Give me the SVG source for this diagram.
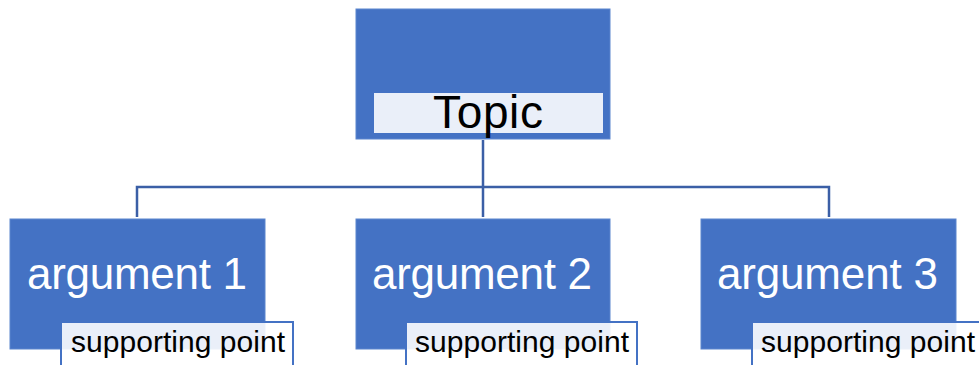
<svg xmlns="http://www.w3.org/2000/svg" width="979" height="365" viewBox="0 0 979 365">
  <style>
    .box { fill: #4472C4; stroke: #5B85CE; stroke-width: 1; }
    .label { fill: #FFFFFF; fill-opacity: 0.89; }
    .sub { fill: #FFFFFF; fill-opacity: 0.89; stroke: #4472C4; stroke-width: 2; }
    .wire { fill: none; stroke: #3B5FA6; stroke-width: 2.5; }
    text { font-family: "Liberation Sans", Arial, sans-serif; }
    .t-topic { font-size: 46px; fill: #000000; }
    .t-arg { font-size: 44px; fill: #FFFFFF; }
    .t-sub { font-size: 30px; fill: #000000; }
  </style>

  <!-- tree connectors -->
  <g id="connectors">
    <path class="wire" d="M483,140 V217"/>
    <path class="wire" d="M137,217 V187 H829 V217"/>
  </g>

  <g id="topic">
    <rect class="box" x="356" y="9" width="254" height="130"/>
    <rect class="label" x="374" y="93" width="229" height="40"/>
    <text class="t-topic" x="433" y="128" textLength="110">Topic</text>
  </g>

  <g id="argument1">
    <rect class="box" x="10" y="219" width="255" height="130"/>
    <text class="t-arg" x="27" y="289" textLength="220">argument 1</text>
  </g>
  <g id="support1">
    <rect class="sub" x="61" y="322" width="232" height="50"/>
    <text class="t-sub" x="71" y="352" textLength="214">supporting point</text>
  </g>

  <g id="argument2">
    <rect class="box" x="356" y="219" width="254" height="130"/>
    <text class="t-arg" x="372" y="289" textLength="220">argument 2</text>
  </g>
  <g id="support2">
    <rect class="sub" x="406" y="322" width="231" height="50"/>
    <text class="t-sub" x="415" y="352" textLength="214">supporting point</text>
  </g>

  <g id="argument3">
    <rect class="box" x="701" y="219" width="255" height="130"/>
    <text class="t-arg" x="717" y="289" textLength="221">argument 3</text>
  </g>
  <g id="support3">
    <rect class="sub" x="752" y="322" width="240" height="50"/>
    <text class="t-sub" x="761" y="352" textLength="214">supporting point</text>
  </g>
</svg>
